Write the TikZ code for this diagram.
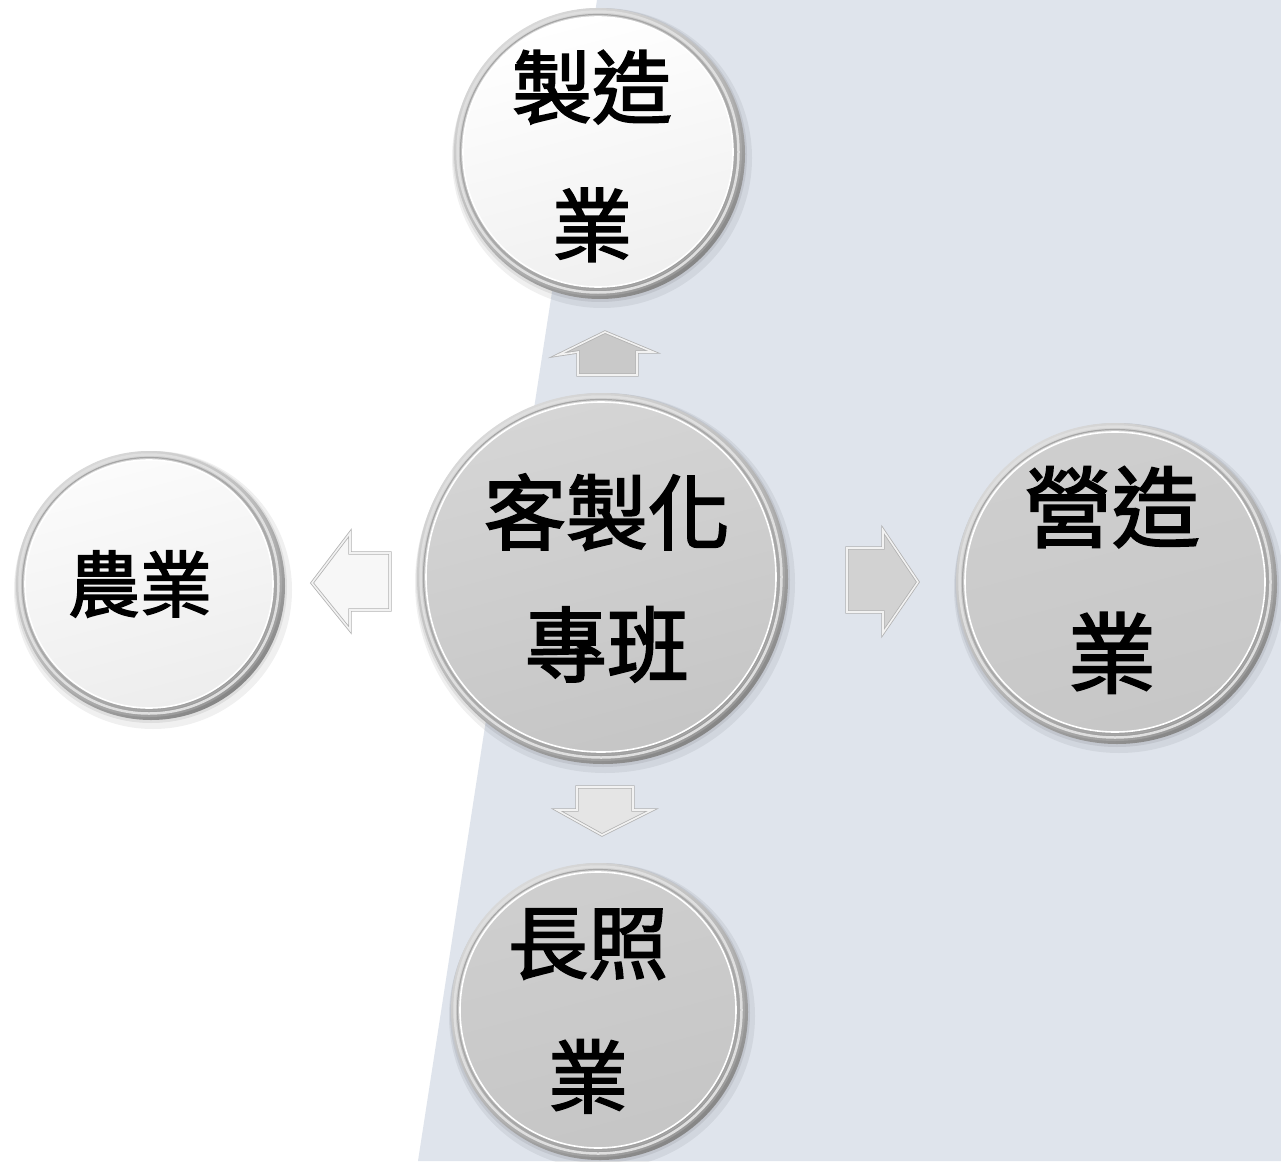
\documentclass[tikz,border=0pt]{standalone}
\usepackage{fontspec}
\newfontfamily\cjk{Noto Sans CJK TC}[AutoFakeBold=2.2]
\newcommand\mycoin[5]{%
  \fill[black,opacity=0.06] (#1+4,#2+6) circle (#3+5);
  \fill[black,opacity=0.07] (#1+2,#2+3) circle (#3+2);
  \shade[top color=gray!20, bottom color=gray!95, shading angle=35] (#1+2,#2+2) circle (#3);
  \shade[top color=gray!30, bottom color=gray!80, shading angle=35] (#1,#2) circle (#3-1);
  \draw[white!75!gray, line width=2.5] (#1,#2) circle (#3-4.5);
  \draw[gray!70, line width=1.2] (#1,#2) circle (#3-7.5);
  \shade[top color=#4, bottom color=#5, shading angle=15] (#1,#2) circle (#3-10);
  \draw[white, line width=1.6] (#1,#2) circle (#3-10);
}
\tikzset{
  lbl/.style={font=\cjk\bfseries\fontsize{#1}{#1}\selectfont, align=center, text=black, inner sep=0pt},
  blockarrow/.style={draw=gray!60, double=white!90!gray, double distance=1.6pt, line width=0.8, line join=miter, fill=#1}
}
\begin{document}
\begin{tikzpicture}[x=1pt,y=-1pt]
\useasboundingbox (0,0) rectangle (1281,1161);
\fill[white] (0,0) rectangle (1281,1161);
\fill[fill={rgb,255:red,223;green,228;blue,236}] (597,0) -- (1281,0) -- (1281,1161) -- (418,1161) -- cycle;

% coins
\mycoin{598}{152}{145}{white}{gray!12}
\mycoin{149}{584}{134}{gray!3}{gray!14}
\mycoin{601}{577}{185}{gray!33}{gray!45}
\mycoin{1115}{582}{160}{gray!38}{gray!44}
\mycoin{598}{1010}{148}{gray!38}{gray!45}

% labels
\node[lbl=80] (zz) at (592,156) {製造\\[58pt]業};
\node[lbl=72] (ny) at (140,584) {農業};
\node[lbl=82] (center) at (607,578) {客製化\\[50pt]專班};
\node[lbl=88] (yz) at (1112,580) {營造\\[58pt]業};
\node[lbl=80] (cz) at (588,1011) {長照\\[54pt]業};

% block arrows
\draw[blockarrow=gray!42] (605,332) -- (653,352) -- (637,352) -- (637,375) -- (578,375) -- (578,352) -- (558,355) -- cycle;
\draw[blockarrow=gray!6] (312,583) -- (350,533) -- (350,553) -- (390,553) -- (390,610) -- (350,610) -- (350,630) -- cycle;
\draw[blockarrow=gray!35] (847,548) -- (883,548) -- (883,530) -- (918,582) -- (883,633) -- (883,612) -- (847,612) -- cycle;
\draw[blockarrow=gray!20] (577,787) -- (633,787) -- (633,810) -- (652,810) -- (602,835) -- (557,810) -- (577,810) -- cycle;
\end{tikzpicture}
\end{document}
